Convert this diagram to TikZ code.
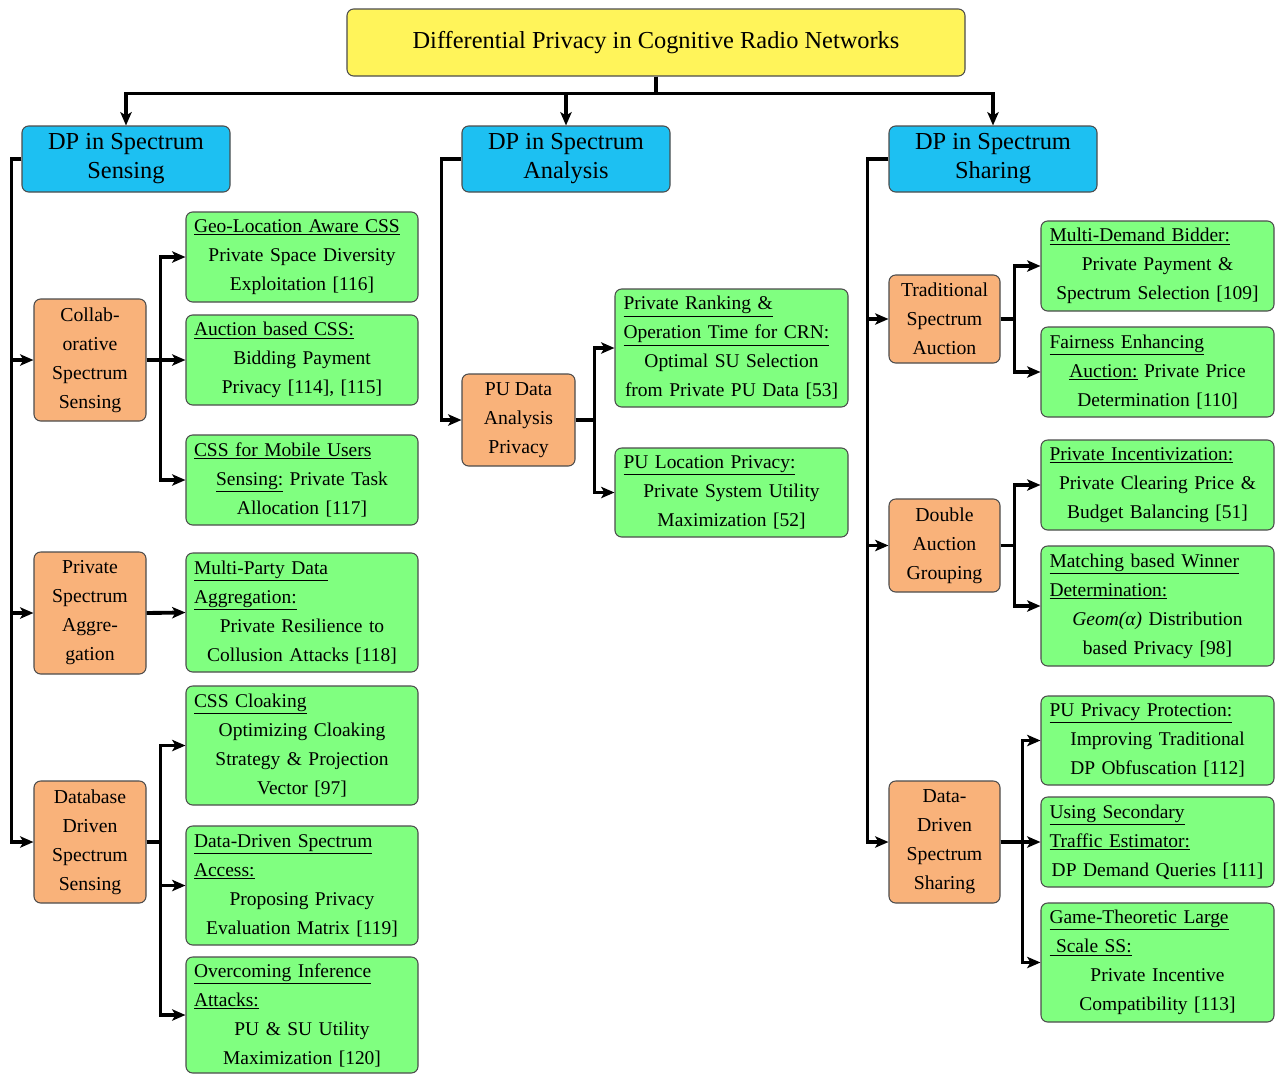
\documentclass[tikz,border=0pt]{standalone}
\usepackage{fontspec}
\setmainfont{Liberation Serif}
\usetikzlibrary{arrows.meta}
\definecolor{ylw}{HTML}{FFF45A}
\definecolor{blu}{HTML}{1DC0F2}
\definecolor{grn}{HTML}{80FF80}
\definecolor{org}{HTML}{F9B27A}
\newcommand\cl[1]{\hspace*{\fill}#1\hspace*{\fill}\null}
\newcommand\hdl[1]{\underline{#1}}
\newcommand\gfont{\fontsize{14.6pt}{21.75pt}\selectfont\parindent=0pt}
\newcommand\ofont{\fontsize{14.8pt}{21.75pt}\selectfont}
\newcommand\bfontx{\fontsize{18.3pt}{21.75pt}\selectfont}
\tikzset{
  wd/.style={minimum width=0.75pt*#1},
  ht/.style={minimum height=0.75pt*#1},
  box/.style={draw=black!70, line width=0.8pt, rounded corners=5pt, inner sep=0pt, anchor=center},
  tbox/.style={box, fill=ylw, wd=618, ht=67, font=\bfontx},
  bbox/.style={box, fill=blu, wd=208, ht=66, align=center, font=\bfontx},
  obox/.style={box, fill=org, wd=112, align=center, font=\ofont},
  gbox/.style={box, fill=grn, wd=232, text width=162pt, align=left, font=\gfont},
  arr/.style={line width=2.9pt, -{Stealth[length=10pt,width=8.5pt,inset=2.5pt]}},
}
\begin{document}
\begin{tikzpicture}[x=0.75pt,y=-0.75pt]
\useasboundingbox (0,0) rectangle (1277,1075);

% title and level 1
\node[tbox] (T) at (656,42.5) {Differential Privacy in Cognitive Radio Networks};
\node[bbox] (B1) at (126,159) {DP in Spectrum\\Sensing};
\node[bbox] (B2) at (566,159) {DP in Spectrum\\Analysis};
\node[bbox] (B3) at (993,159) {DP in Spectrum\\Sharing};

% orange
\node[obox, ht=122] (O1) at (90,360) {Collab-\\orative\\Spectrum\\Sensing};
\node[obox, ht=122] (O2) at (90,613) {Private\\Spectrum\\Aggre-\\gation};
\node[obox, ht=122] (O3) at (90,842) {Database\\Driven\\Spectrum\\Sensing};
\node[obox, wd=113, ht=92] (O4) at (518.5,420) {PU Data\\Analysis\\Privacy};
\node[obox, wd=111, ht=88] (O5) at (944.5,319) {Traditional\\Spectrum\\Auction};
\node[obox, wd=111, ht=93] (O6) at (944.5,545.5) {Double\\Auction\\Grouping};
\node[obox, wd=111, ht=122] (O7) at (944.5,842) {Data-\\Driven\\Spectrum\\Sharing};

% green left
\node[gbox, ht=90] (G1) at (302,257) {\hdl{Geo-Location Aware CSS}\\\cl{Private Space Diversity}\\\cl{Exploitation [116]}};
\node[gbox, ht=90] (G2) at (302,360) {\hdl{Auction based CSS:}\\\cl{Bidding Payment}\\\cl{Privacy [114], [115]}};
\node[gbox, ht=90] (G3) at (302,480) {\hdl{CSS for Mobile Users}\\\cl{\hdl{Sensing:} Private Task}\\\cl{Allocation [117]}};
\node[gbox, ht=119] (G4) at (302,612.5) {\hdl{Multi-Party Data}\\\hdl{Aggregation:}\\\cl{Private Resilience to}\\\cl{Collusion Attacks [118]}};
\node[gbox, ht=119] (G5) at (302,745.5) {\hdl{CSS Cloaking}\\\cl{Optimizing Cloaking}\\\cl{Strategy \& Projection}\\\cl{Vector [97]}};
\node[gbox, ht=119] (G6) at (302,885.5) {\hdl{Data-Driven Spectrum}\\\hdl{Access:}\\\cl{Proposing Privacy}\\\cl{Evaluation Matrix [119]}};
\node[gbox, ht=116] (G7) at (302,1015) {\hdl{Overcoming Inference}\\\hdl{Attacks:}\\\cl{PU \& SU Utility}\\\cl{Maximization [120]}};

% green middle
\node[gbox, wd=233, ht=118] (G8) at (731.5,348) {\hdl{Private Ranking \&}\\\hdl{Operation Time for CRN:}\\\cl{Optimal SU Selection}\\\cl{from Private PU Data [53]}};
\node[gbox, wd=233, ht=89] (G9) at (731.5,492.5) {\hdl{PU Location Privacy:}\\\cl{Private System Utility}\\\cl{Maximization [52]}};

% green right
\node[gbox, wd=233, ht=90] (G10) at (1157.5,266) {\hdl{Multi-Demand Bidder:}\\\cl{Private Payment \&}\\\cl{Spectrum Selection [109]}};
\node[gbox, wd=233, ht=90] (G11) at (1157.5,372) {\hdl{Fairness Enhancing}\\\cl{\hdl{Auction:} Private Price}\\\cl{Determination [110]}};
\node[gbox, wd=233, ht=90] (G12) at (1157.5,485) {\hdl{Private Incentivization:}\\\cl{Private Clearing Price \&}\\\cl{Budget Balancing [51]}};
\node[gbox, wd=233, ht=120] (G13) at (1157.5,606) {\hdl{Matching based Winner}\\\hdl{Determination:}\\\cl{\textit{Geom(α)} Distribution}\\\cl{based Privacy [98]}};
\node[gbox, wd=233, ht=89] (G14) at (1157.5,740.5) {\hdl{PU Privacy Protection:}\\\cl{Improving Traditional}\\\cl{DP Obfuscation [112]}};
\node[gbox, wd=233, ht=90] (G15) at (1157.5,842) {\hdl{Using Secondary}\\\hdl{Traffic Estimator:}\\\cl{DP Demand Queries [111]}};
\node[gbox, wd=233, ht=119] (G16) at (1157.5,962.5) {\hdl{Game-Theoretic Large}\\\hdl{\ Scale SS:}\\\cl{Private Incentive}\\\cl{Compatibility [113]}};

% connectors: title to level 1
\foreach \b in {B1,B2,B3}
  \draw[arr] (T.south) -- ++(0,17) -| (\b.north);

% left trunk
\foreach \o in {O1,O2,O3}
  \draw[arr] (B1.west) -- ++(-10,0) |- (\o.west);
\foreach \g in {G1,G2,G3}
  \draw[arr] (O1.east) -- ++(14,0) |- (\g.west);
\draw[arr] (O2.east) -- (G4.west);
\foreach \g in {G5,G6,G7}
  \draw[arr] (O3.east) -- ++(14,0) |- (\g.west);

% middle trunk
\draw[arr] (B2.west) -- ++(-20,0) |- (O4.west);
\foreach \g in {G8,G9}
  \draw[arr] (O4.east) -- ++(19,0) |- (\g.west);

% right trunk
\foreach \o in {O5,O6,O7}
  \draw[arr] (B3.west) -- ++(-21,0) |- (\o.west);
\foreach \g in {G10,G11}
  \draw[arr] (O5.east) -- ++(14,0) |- (\g.west);
\foreach \g in {G12,G13}
  \draw[arr] (O6.east) -- ++(14,0) |- (\g.west);
\foreach \g in {G14,G15,G16}
  \draw[arr] (O7.east) -- ++(22,0) |- (\g.west);
\end{tikzpicture}
\end{document}
